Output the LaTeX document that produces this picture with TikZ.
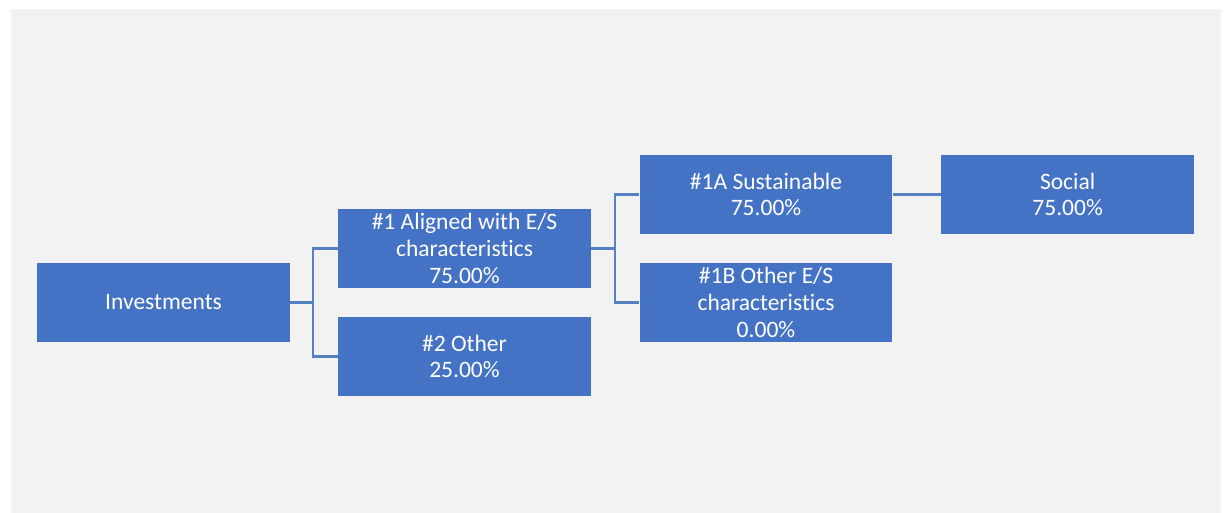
\documentclass[tikz,border=0pt]{standalone}
\usepackage{fontspec}
\setmainfont{Carlito}[Ligatures={NoCommon}]
\usetikzlibrary{positioning}
\definecolor{boxblue}{RGB}{68,114,196}
\definecolor{linkblue}{RGB}{84,130,192}
\definecolor{bggray}{RGB}{242,242,242}

\begin{document}
\begin{tikzpicture}[
    x=0.02cm, y=-0.02cm,
    invbox/.style={rectangle, fill=boxblue, draw=none, minimum width=5.06cm, minimum height=1.58cm, align=center, text=white, font=\fontsize{13.4}{15.2}\selectfont, inner sep=2pt},
    link/.style={draw=linkblue, line width=1.2pt}
]
    \useasboundingbox (0,0) rectangle (1226,513);
    \fill[bggray] (11,9) rectangle (1221,513);

    % first level
    \node[invbox] (inv) at (163.5,302.5) {Investments};
    \node[invbox] (align) at (464.5,248.5) {\#1 Aligned with E/S\\characteristics\\75.00\%};
    \node[invbox] (other) at (464.5,356.5) {\#2 Other\\25.00\%};

    % second level
    \node[invbox] (sust) at (766,194.5) {\#1A Sustainable\\75.00\%};
    \node[invbox] (othes) at (766,302.5) {\#1B Other E/S\\characteristics\\0.00\%};
    \node[invbox] (social) [right=0.96cm of sust] {Social\\75.00\%};

    % connectors
    \draw[link] (inv.east) -- ++(23,0) |- (align.west);
    \draw[link] (inv.east) -- ++(23,0) |- (other.west);
    \draw[link] (align.east) -- ++(24,0) |- (sust.west);
    \draw[link] (align.east) -- ++(24,0) |- (othes.west);
    \draw[link] (sust) -- (social);
\end{tikzpicture}
\end{document}
